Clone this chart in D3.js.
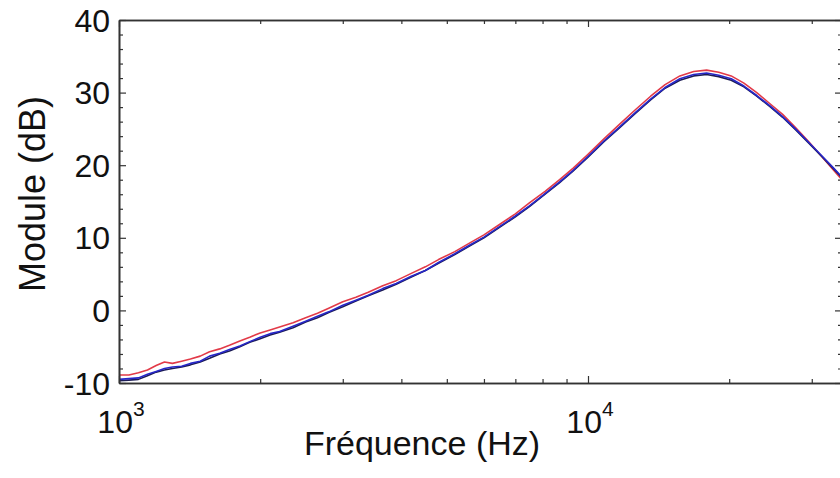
<!DOCTYPE html>
<html>
<head>
<meta charset="utf-8">
<script src="https://cdn.jsdelivr.net/npm/d3@7"></script>
<style>
  body { margin: 0; background: #fff; }
  text { font-family: Arial, "Liberation Sans", sans-serif; fill: #111; }
</style>
</head>
<body>
<div id="chart"></div>
<script>
// frequences (Hz)
var freqs = [1000,1050,1100,1150,1200,1250,1300,1360,1420,1490,1560,1640,1720,1810,1900,2000,2100,2200,2350,2500,2650,2800,3000,3200,3400,3650,3900,4200,4500,4800,5200,5600,6000,6500,7000,7500,8100,8700,9300,10000,10800,11700,12600,13600,14600,15700,16800,17900,19000,20200,21500,22900,24400,26000,27700,29500,31400,33400,35000];

// module (dB) - mesure rouge
var redDb = [-8.9,-8.9,-8.6,-8.2,-7.6,-7.1,-7.3,-7.0,-6.7,-6.3,-5.7,-5.3,-4.8,-4.2,-3.7,-3.1,-2.7,-2.3,-1.7,-1.0,-0.4,0.3,1.2,1.8,2.5,3.4,4.1,5.1,6.0,7.0,8.1,9.3,10.4,11.9,13.3,14.8,16.4,18.0,19.6,21.5,23.6,25.7,27.6,29.5,31.1,32.3,32.9,33.1,32.8,32.3,31.3,30.0,28.5,27.0,25.2,23.3,21.3,19.3,17.8];

// module (dB) - mesure bleue
var blueDb = [-9.5,-9.4,-9.3,-8.8,-8.4,-8.0,-7.8,-7.7,-7.3,-7.0,-6.3,-5.9,-5.4,-4.9,-4.3,-3.7,-3.2,-2.9,-2.2,-1.5,-0.8,-0.2,0.7,1.4,2.1,3.0,3.7,4.7,5.5,6.6,7.8,9.0,10.1,11.6,13.0,14.4,16.1,17.7,19.3,21.2,23.3,25.3,27.2,29.1,30.7,31.9,32.5,32.7,32.4,31.9,30.9,29.6,28.2,26.7,25.0,23.2,21.4,19.6,18.2];

// module (dB) - mesure noire
var blackDb = [-9.7,-9.6,-9.5,-9.0,-8.5,-8.2,-8.0,-7.8,-7.5,-7.1,-6.6,-6.0,-5.6,-5.0,-4.4,-3.9,-3.4,-3.0,-2.4,-1.6,-1.0,-0.3,0.5,1.3,2.0,2.8,3.6,4.6,5.5,6.5,7.7,8.9,10.0,11.5,12.9,14.3,16.0,17.6,19.2,21.1,23.2,25.2,27.1,29.0,30.6,31.7,32.3,32.5,32.2,31.7,30.8,29.5,28.1,26.6,24.9,23.1,21.3,19.5,18.1];

var yMajor = [-10, 0, 10, 20, 30, 40];
var yMinor = [-8,-6,-4,-2,2,4,6,8,12,14,16,18,22,24,26,28,32,34,36,38];
var xMajor = [1000, 10000];
var xMajorExp = ["3", "4"];
var xMinor = [2000,3000,4000,5000,6000,7000,8000,9000,20000,30000];

(function() {
	var width = 840,
		height = 478;

	var pLeft = 119, pRight = 842, pTop = 20, pBottom = 383;

	var svg = d3.select("#chart")
		.append("svg")
		.attr("width", width)
		.attr("height", height);

	var x = d3.scaleLog()
		.domain([1000, 1000 * Math.pow(10, (pRight - pLeft) / 469)])
		.range([pLeft, pRight]);

	var y = d3.scaleLinear()
		.domain([-10, 40])
		.range([pBottom, pTop]);

	svg.append("defs").append("clipPath")
		.attr("id", "plot-clip")
		.append("rect")
		.attr("x", pLeft).attr("y", pTop)
		.attr("width", pRight - pLeft).attr("height", pBottom - pTop);

	// courbes
	var series = [
		{ name: "rouge", values: redDb, color: "#e23a48" },
		{ name: "noire", values: blackDb, color: "#1c1c55" },
		{ name: "bleue", values: blueDb, color: "#2626c8" }
	];

	var line = d3.line()
		.x(function(d){ return x(d[0]) })
		.y(function(d){ return y(d[1]) });

	svg.append("g")
		.attr("clip-path", "url(#plot-clip)")
		.selectAll("path")
		.data(series)
		.enter().append("path")
		.attr("fill", "none")
		.attr("stroke", function(d){ return d.color })
		.attr("stroke-width", 1.6)
		.attr("stroke-linejoin", "round")
		.attr("d", function(d){
			return line(freqs.map(function(f, i){ return [f, d.values[i]] }))
		});

	// axes (ticks vers l'interieur, sur les 4 cotes)
	function styleAxis(g) {
		g.select(".domain").attr("stroke", "#333").attr("stroke-width", 1.6);
		g.selectAll(".tick line").attr("stroke", "#333").attr("stroke-width", 1.2);
	}

	var axes = [
		{ axis: d3.axisLeft(y), t: "translate(" + pLeft + ",0)", major: yMajor, minor: yMinor },
		{ axis: d3.axisRight(y), t: "translate(" + pRight + ",0)", major: yMajor, minor: yMinor },
		{ axis: d3.axisBottom(x), t: "translate(0," + pBottom + ")", major: xMajor, minor: xMinor },
		{ axis: d3.axisTop(x), t: "translate(0," + pTop + ")", major: xMajor, minor: xMinor }
	];

	axes.forEach(function(a){
		svg.append("g")
			.attr("transform", a.t)
			.call(a.axis.tickValues(a.minor).tickSize(-4).tickSizeOuter(0).tickFormat(""))
			.call(styleAxis);
		svg.append("g")
			.attr("transform", a.t)
			.call(a.axis.tickValues(a.major).tickSize(-7).tickSizeOuter(0).tickFormat(""))
			.call(styleAxis);
	});

	// labels des ticks Y
	svg.append("g")
		.selectAll("text")
		.data(yMajor)
		.enter().append("text")
		.attr("x", pLeft - 9)
		.attr("y", function(d){ return y(d) })
		.attr("dy", "0.36em")
		.attr("text-anchor", "end")
		.attr("font-size", 32)
		.text(function(d){ return d });

	// labels des ticks X (10^n)
	var xl = svg.append("g")
		.selectAll("text")
		.data(xMajor)
		.enter().append("text")
		.attr("x", function(d){ return x(d) + 2 })
		.attr("y", pBottom + 50)
		.attr("text-anchor", "middle")
		.attr("font-size", 32);
	xl.append("tspan").text("10");
	xl.append("tspan")
		.attr("dy", -17)
		.attr("font-size", 21)
		.text(function(d, i){ return xMajorExp[i] });

	// titres
	svg.append("text")
		.attr("x", 422)
		.attr("y", 455)
		.attr("text-anchor", "middle")
		.attr("font-size", 34)
		.text("Fréquence (Hz)");

	svg.append("text")
		.attr("transform", "translate(45,194) rotate(-90)")
		.attr("text-anchor", "middle")
		.attr("font-size", 36)
		.text("Module (dB)");
})();
</script>
</body>
</html>
